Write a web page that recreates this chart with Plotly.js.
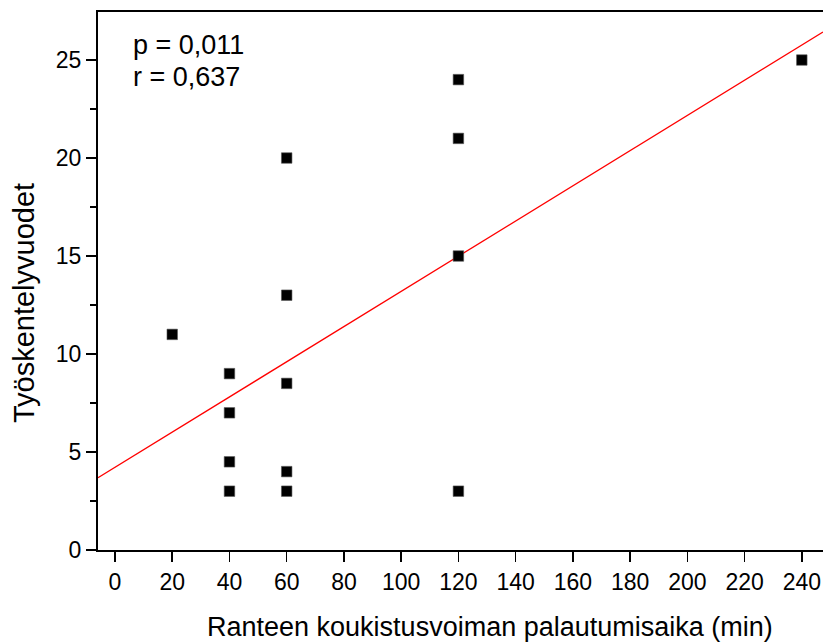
<!DOCTYPE html>
<html>
<head>
<meta charset="utf-8">
<script src="https://cdn.plot.ly/plotly-3.0.1.min.js"></script>
<style>html,body{margin:0;padding:0;overflow:hidden;background:#fff;}</style>
</head>
<body>
<div id="chart" style="width:823px;height:644px;"></div>
<script>
// Data
const recoveryTime = [20, 40, 40, 40, 40, 60, 60, 60, 60, 60, 120, 120, 120, 120, 240];
const workYears   = [11, 9, 7, 4.5, 3, 20, 13, 8.5, 4, 3, 24, 21, 15, 3, 25];
const xTicks = [0, 20, 40, 60, 80, 100, 120, 140, 160, 180, 200, 220, 240];
const yTicks = [0, 5, 10, 15, 20, 25];
const statsText = ["p = 0,011", "r = 0,637"];
const xTitle = 'Ranteen koukistusvoiman palautumisaika (min)';
const yTitle = 'Työskentelyvuodet';

const xRange = [-5.94, 247.4];
const yRange = [0, 27.45];

// Least-squares fit
const n = recoveryTime.length;
const mx = recoveryTime.reduce((a, b) => a + b, 0) / n;
const my = workYears.reduce((a, b) => a + b, 0) / n;
let sxy = 0, sxx = 0;
for (let i = 0; i < n; i++) {
  sxy += (recoveryTime[i] - mx) * (workYears[i] - my);
  sxx += (recoveryTime[i] - mx) ** 2;
}
const slope = sxy / sxx;
const intercept = my - slope * mx;
const fitX = [xRange[0], xRange[1]];
const fitY = fitX.map(x => intercept + slope * x);

const font = "Liberation Sans, Arial, Helvetica, sans-serif";

const traces = [
  {
    x: fitX, y: fitY, mode: 'lines', type: 'scatter',
    line: {color: '#ff0000', width: 1.3}, hoverinfo: 'skip'
  },
  {
    x: recoveryTime, y: workYears, mode: 'markers', type: 'scatter',
    marker: {symbol: 'square', size: 10.5, color: '#000000', line: {color: '#555555', width: 0.6}}
  }
];

const annotations = statsText.map((t, i) => ({
  text: t, xref: 'paper', yref: 'paper', x: 0.045, y: 1 - (0.062 + i * 0.058),
  xanchor: 'left', yanchor: 'middle', showarrow: false,
  font: {size: 27, family: font, color: '#000'}
}));
annotations.push({
  text: xTitle, xref: 'paper', yref: 'paper', x: 0.541, y: -0.143,
  xanchor: 'center', yanchor: 'middle', showarrow: false,
  font: {size: 27, family: font, color: '#000'}
});
annotations.push({
  text: yTitle, xref: 'paper', yref: 'paper', x: -0.102, y: 0.459,
  xanchor: 'center', yanchor: 'middle', showarrow: false, textangle: -90,
  font: {size: 29, family: font, color: '#000'}
});

const layout = {
  width: 823, height: 644,
  margin: {l: 98, r: 0, t: 12, b: 94},
  paper_bgcolor: '#ffffff', plot_bgcolor: '#ffffff',
  showlegend: false,
  font: {family: font, color: '#000000'},
  xaxis: {
    range: xRange, tickvals: xTicks, ticktext: xTicks.map(String),
    showgrid: false, zeroline: false,
    showline: true, linecolor: '#000', linewidth: 2, mirror: true,
    ticks: 'outside', ticklen: 10, tickwidth: 1.5, tickcolor: '#000',
    tickfont: {size: 23, family: font}
  },
  yaxis: {
    range: yRange, tickvals: yTicks, ticktext: yTicks.map(String),
    showgrid: false, zeroline: false,
    showline: true, linecolor: '#000', linewidth: 2,
    ticks: 'outside', ticklen: 10, tickwidth: 1.5, tickcolor: '#000',
    tickfont: {size: 23, family: font},
    minor: {dtick: 2.5, tick0: 2.5, ticks: 'outside', ticklen: 6, tickwidth: 1.5, tickcolor: '#000', showgrid: false}
  },
  annotations: annotations
};

Plotly.newPlot('chart', traces, layout, {staticPlot: true, displayModeBar: false});
</script>
</body>
</html>
